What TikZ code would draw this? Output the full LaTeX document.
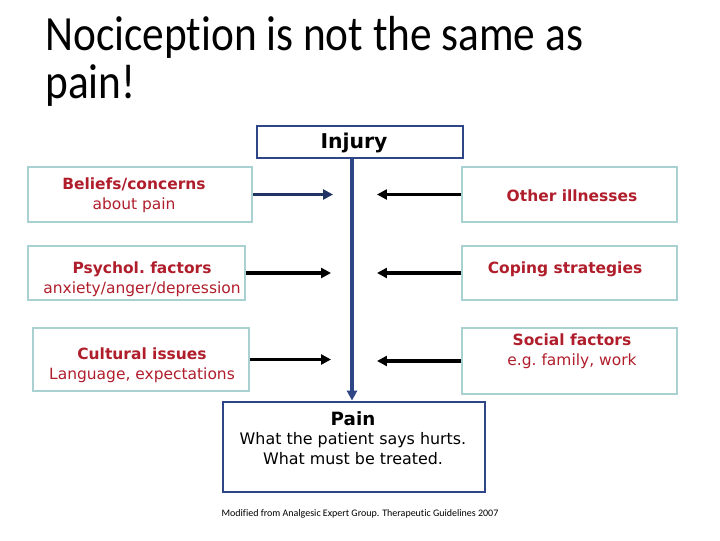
\documentclass[tikz,border=0pt]{standalone}
\usepackage{fontspec}
\setmainfont{DejaVu Sans}
\newfontfamily\titlefont[Ligatures=NoCommon]{Carlito}
\usepackage{tikz}
\usetikzlibrary{arrows.meta,positioning}
\usepackage{xcolor}
\definecolor{factorColor}{HTML}{A9D1D1}
\definecolor{factorText}{HTML}{B01E2C}
\definecolor{pathColor}{HTML}{2E4686}
\definecolor{beliefArrow}{HTML}{1F3463}

\begin{document}
\begin{tikzpicture}[
    x=0.025cm, y=-0.025cm,
    >={Triangle[length=7pt,width=7pt]},
    factor/.style={rectangle, draw=factorColor, line width=2pt, fill=white},
    factorlabel/.style={align=center, text=factorText, font=\fontsize{11}{14}\selectfont, inner sep=0pt},
    pathbox/.style={rectangle, draw=pathColor, line width=2pt, fill=white},
    pathlabel/.style={align=center, font=\fontsize{11.3}{14}\selectfont, inner sep=0pt},
    heading/.style={anchor=base west, inner sep=0pt, font=\titlefont\fontsize{35}{37}\selectfont},
    influence/.style={->, line width=2.2pt},
  ]
  \useasboundingbox (0,0) rectangle (720,540);

  % Title
  \node[heading] (title1) at (45,50) {\scalebox{0.88}[1]{Nociception is not the same as}};
  \node[heading] (title2) at (45,98) {\scalebox{0.88}[1]{pain!}};

  % Boxes
  \node[pathbox, minimum width=5.15cm, minimum height=0.8cm] (injury) at (360,142) {};
  \node[pathbox, minimum width=6.55cm, minimum height=2.25cm] (pain) at (354,447) {};

  \node[factor, minimum width=5.6cm, minimum height=1.375cm] (beliefs) at (140,194.5) {};
  \node[factor, minimum width=5.425cm, minimum height=1.35cm] (psychol) at (136.5,273) {};
  \node[factor, minimum width=5.4cm, minimum height=1.575cm] (cultural) at (141,359.5) {};

  \node[factor, minimum width=5.375cm, minimum height=1.375cm] (illness) at (569.5,194.5) {};
  \node[factor, minimum width=5.375cm, minimum height=1.35cm] (coping) at (569.5,273) {};
  \node[factor, minimum width=5.375cm, minimum height=1.65cm] (social) at (569.5,361) {};

  % Texts inside the boxes
  \node[pathlabel, font=\bfseries\fontsize{14.5}{16}\selectfont] (injury-txt) at (354,143) {Injury};
  \node[pathlabel] (pain-txt) at (353,438)
    {\textbf{\fontsize{13}{15}\selectfont Pain}\\What the patient says hurts.\\What must be treated.};

  \node[factorlabel] (beliefs-txt) at (134,195.5) {\textbf{Beliefs/concerns}\\about pain};
  \node[factorlabel] (psychol-txt) at (142,279) {\textbf{Psychol.\ factors}\\anxiety/anger/depression};
  \node[factorlabel] (cultural-txt) at (142,365.5) {\textbf{Cultural issues}\\Language, expectations};

  \node[factorlabel] (illness-txt) at (572,196) {\textbf{Other illnesses}};
  \node[factorlabel] (coping-txt) at (565,269) {\textbf{Coping strategies}};
  \node[factorlabel] (social-txt) at (572,351.5) {\textbf{Social factors}\\e.g.\ family, work};

  % Source note
  \node[font=\titlefont\fontsize{7.1}{8}\selectfont] (note) at (360,514) {Modified from Analgesic Expert Group. Therapeutic Guidelines 2007};

  % Arrow tips next to the pathway
  \coordinate (tipL1) at (333,194.5);
  \coordinate (tipL2) at (331,273);
  \coordinate (tipL3) at (331,359.5);
  \coordinate (tipR1) at (377,194.5);
  \coordinate (tipR2) at (377,273);
  \coordinate (tipR3) at (377,361);

  % Edges
  \draw[->, draw=pathColor, line width=2.2pt] (injury.south -| 352,0) -- (pain.north -| 352,0);
  \draw[influence, beliefArrow] (beliefs.east) -- (tipL1);
  \draw[influence] (psychol.east) -- (tipL2);
  \draw[influence] (cultural.east) -- (tipL3);
  \draw[influence] (illness.west) -- (tipR1);
  \draw[influence] (coping.west) -- (tipR2);
  \draw[influence] (social.west) -- (tipR3);

\end{tikzpicture}
\end{document}
